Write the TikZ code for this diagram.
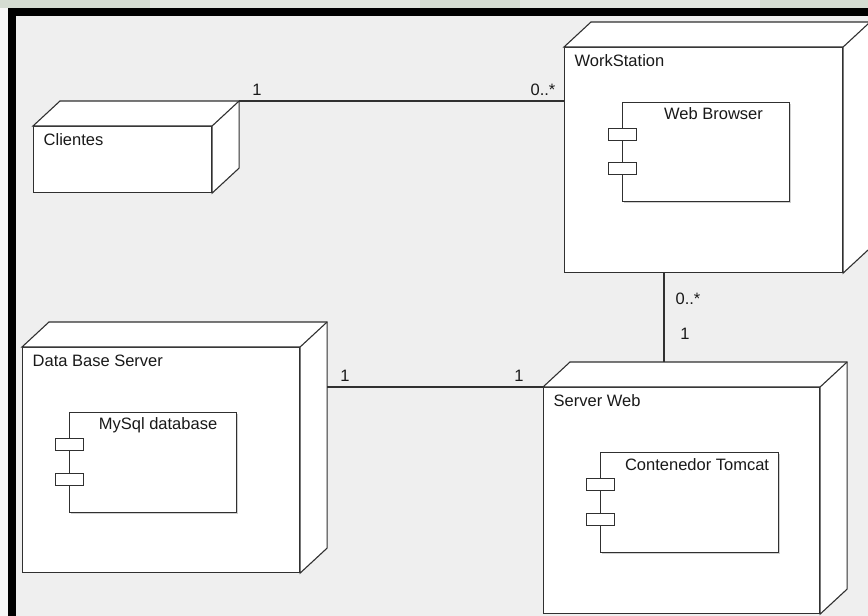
\documentclass[tikz,border=0pt]{standalone}
\usepackage{fontspec}
\setmainfont{Liberation Sans}
\usepackage{tikz}
\usetikzlibrary{calc,positioning,shadows}
\definecolor{PanelGray}{HTML}{EFEFEF}
\definecolor{EdgeDark}{HTML}{303030}
\definecolor{WaterGreen}{HTML}{D5DCD2}
\definecolor{WaterLight}{HTML}{E2E6E0}

% top and side faces of a deployment node, back corners named <node>-bnw etc.
\newcommand{\nodecube}[1]{%
  \draw[face] (#1.north west) -- ++(27,-25) coordinate (#1-bnw)
    -- ($(#1.north east)+(27,-25)$) coordinate (#1-bne)
    -- ($(#1.south east)+(27,-25)$) coordinate (#1-bse)
    -- (#1.south east) -- (#1.north east) -- cycle;
  \draw[face] (#1.north east) -- (#1-bne);
}

\begin{document}
\begin{tikzpicture}[
    x=1pt, y=-1pt,
    font=\fontsize{16.5}{19}\selectfont,
    face/.style={draw=EdgeDark, line width=1.1pt, fill=white, line join=miter},
    front/.style={rectangle, draw=EdgeDark, line width=1.1pt, fill=white, inner sep=0pt, anchor=north west},
    comp/.style={rectangle, draw=EdgeDark, line width=1.1pt, fill=white, inner sep=0pt, anchor=north west,
                 drop shadow={shadow xshift=1.5pt, shadow yshift=-1.5pt, opacity=.3, fill=black!60}},
    port/.style={rectangle, draw=EdgeDark, line width=1pt, fill=white, inner sep=0pt, minimum width=28pt, minimum height=12pt},
    title/.style={inner sep=0pt, anchor=west, text=black!90},
    mult/.style={inner sep=0pt, text=black!90},
    link/.style={draw=EdgeDark, line width=1.1pt}
]
\useasboundingbox (0,0) rectangle (868,616);
% frame and background
\fill[WaterGreen] (0,0) rectangle (868,8);
\fill[WaterLight] (150,0) rectangle (420,8);
\fill[WaterLight] (520,0) rectangle (760,8);
\fill[white!97!black] (0,8) rectangle (8,616);
\fill[PanelGray] (16,16) rectangle (868,616);
\fill[black] (8,8) rectangle (868,16);
\fill[black] (8,8) rectangle (16,616);

% deployment nodes
\node[front, minimum width=178pt, minimum height=66pt] (cli) at (33,126) {};
\nodecube{cli}
\node[title] (cli-t) at ($(cli.north west)+(10.5,13.5)$) {Clientes};

\node[front, minimum width=278pt, minimum height=225pt] (ws) at (564,47) {};
\nodecube{ws}
\node[title] (ws-t) at ($(ws.north west)+(10.5,13.5)$) {WorkStation};

\node[front, minimum width=277pt, minimum height=225pt] (dbs) at (22,347) {};
\nodecube{dbs}
\node[title] (dbs-t) at ($(dbs.north west)+(10.5,13.5)$) {Data Base Server};

\node[front, minimum width=276pt, minimum height=226pt] (sw) at (543,387) {};
\nodecube{sw}
\node[title] (sw-t) at ($(sw.north west)+(10.5,13.5)$) {Server Web};

% components
\node[comp, minimum width=167pt, minimum height=99pt] (wb) at (622,102) {};
\node[port] (wb-p1) at ($(wb.north west)+(0.5,32)$) {};
\node[port] (wb-p2) at ($(wb.north west)+(0.5,66)$) {};
\node[mult] (wb-t) at ($(wb.north)+(7.5,12)$) {Web Browser};

\node[comp, minimum width=167pt, minimum height=100pt] (my) at (69,412) {};
\node[port] (my-p1) at ($(my.north west)+(0.5,32)$) {};
\node[port] (my-p2) at ($(my.north west)+(0.5,67)$) {};
\node[mult] (my-t) at ($(my.north)+(5,13)$) {MySql database};

\node[comp, minimum width=178pt, minimum height=100pt] (tc) at (600,452) {};
\node[port] (tc-p1) at ($(tc.north west)+(0.5,32)$) {};
\node[port] (tc-p2) at ($(tc.north west)+(0.5,67)$) {};
\node[mult] (tc-t) at ($(tc.north)+(7.5,13)$) {Contenedor Tomcat};

% associations
\draw[link] (cli-bne) -- (cli-bne -| ws.west);
\draw[link] (dbs-bne |- sw.north west) -- (sw.north west);
\draw[link] ($(ws.south west)+(100,0)$) coordinate (ws-s) -- (ws-s |- sw-bnw);

\node[mult] (m1) at (257,90) {1};
\node[mult] (m2) at (543,90) {0..*};
\node[mult] (m3) at (345,376) {1};
\node[mult] (m4) at (519,376) {1};
\node[mult] (m5) at (688,299) {0..*};
\node[mult] (m6) at (685,334) {1};
\end{tikzpicture}
\end{document}
